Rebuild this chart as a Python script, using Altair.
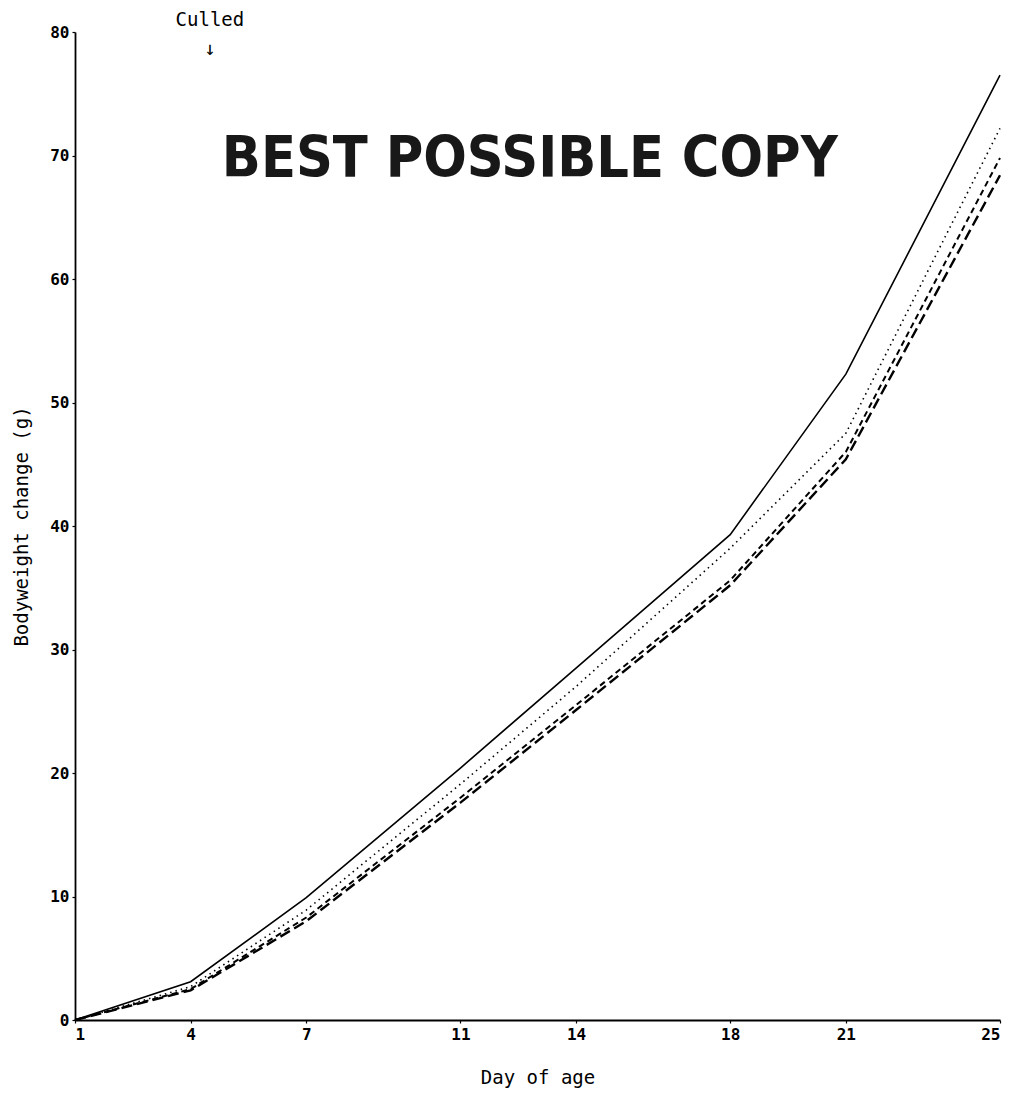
import altair as alt
import pandas as pd

# ---- data ----
days = [1, 4, 7, 11, 14, 18, 21, 25]
solid = [0, 3.1, 9.9, 20.4, 28.5, 39.3, 52.3, 76.5]
dotted = [0, 2.7, 8.9, 19.1, 27.0, 38.2, 47.5, 72.2]
short_dash = [0, 2.5, 8.3, 18.0, 25.5, 35.6, 46.0, 69.8]
long_dash = [0, 2.4, 8.0, 17.6, 25.1, 35.2, 45.4, 68.4]
series_names = ["solid", "dotted", "short dash", "long dash"]
x_ticks = [1, 4, 7, 11, 14, 18, 21, 25]
y_ticks = [0, 10, 20, 30, 40, 50, 60, 70, 80]

annot_texts = ["Culled", "↓"]
annot_days = [4.5, 4.5]
annot_vals = [81.0, 78.6]

stamp_text = ["BEST POSSIBLE COPY"]
stamp_day = [12.8]
stamp_val = [69.6]

# ---- build tables ----
series_vals = [solid, dotted, short_dash, long_dash]
rows = []
for name, vals in zip(series_names, series_vals):
    for d, v in zip(days, vals):
        rows.append({"day": d, "value": v, "series": name})
df = pd.DataFrame(rows)
annot_df = pd.DataFrame({"day": annot_days, "value": annot_vals, "text": annot_texts})
stamp_df = pd.DataFrame({"day": stamp_day, "value": stamp_val, "text": stamp_text})

MONO = "DejaVu Sans Mono"

x_scale = alt.Scale(domain=[1, 25], nice=False, zero=False)
y_scale = alt.Scale(domain=[0, 80], nice=False)

x_enc = alt.X("day:Q", scale=x_scale,
              axis=alt.Axis(title="Day of age", values=x_ticks, format="d",
                            labelFlush=True, titlePadding=26))
y_enc = alt.Y("value:Q", scale=y_scale,
              axis=alt.Axis(title="Bodyweight change (g)", values=y_ticks, format="d",
                            titlePadding=18))

styles = {
    "solid": dict(strokeWidth=1.6),
    "dotted": dict(strokeWidth=1.6, strokeDash=[1.5, 4]),
    "short dash": dict(strokeWidth=2.0, strokeDash=[6, 4]),
    "long dash": dict(strokeWidth=2.4, strokeDash=[11, 5]),
}

layers = []
for name in series_names:
    layers.append(
        alt.Chart(df).transform_filter(alt.datum.series == name)
        .mark_line(color="black", **styles[name])
        .encode(x=x_enc, y=y_enc)
    )

annot = alt.Chart(annot_df).mark_text(font=MONO, fontSize=19, color="black",
                                      baseline="middle", align="center").encode(
    x=alt.X("day:Q", scale=x_scale), y=alt.Y("value:Q", scale=y_scale), text="text:N")

stamp = alt.Chart(stamp_df).mark_text(
    font="DejaVu Sans Condensed, DejaVu Sans, sans-serif",
    fontSize=57, fontWeight="bold", color="black", opacity=0.9,
    baseline="middle", align="center").encode(
    x=alt.X("day:Q", scale=x_scale), y=alt.Y("value:Q", scale=y_scale), text="text:N")

chart = alt.layer(*layers, annot, stamp).properties(
    width=925, height=988,
    padding={"left": 67, "top": 24, "right": 3, "bottom": 70},
    autosize=alt.AutoSizeParams(type="none"),
).configure_view(stroke=None).configure_axis(
    grid=False,
    domainColor="black", domainWidth=1.8,
    tickColor="black", tickSize=3, tickWidth=1.2,
    labelFont=MONO, labelFontSize=16, labelFontWeight="bold", labelColor="black",
    labelPadding=3,
    titleFont=MONO, titleFontSize=19, titleFontWeight="normal", titleColor="black",
)

chart.save("out.html", embed_options={"renderer": "svg", "actions": False})
